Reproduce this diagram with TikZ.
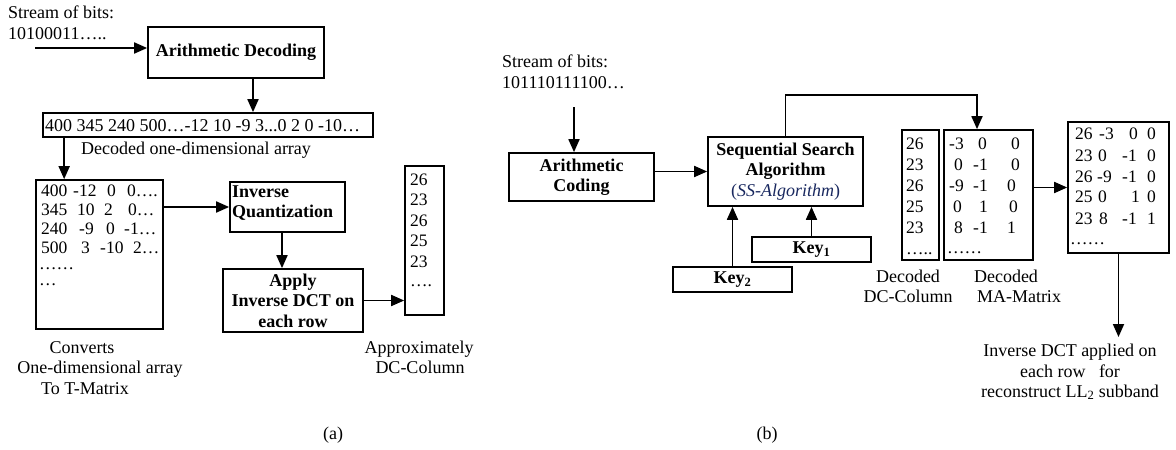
\documentclass[tikz,border=0pt]{standalone}
\usepackage{fontspec}
\setmainfont{Liberation Serif}
\usetikzlibrary{arrows.meta}
\definecolor{navy}{RGB}{25,40,95}
\begin{document}
\begin{tikzpicture}[x=1pt,y=-1pt,
  box/.style={draw, line width=1.7pt, inner sep=0pt},
  arr/.style={line width=1.8pt, -{Triangle[length=13pt,width=11pt]}},
  txt/.style={inner sep=0pt, font=\fontsize{18}{20.5}\selectfont},
  btxt/.style={inner sep=0pt, font=\fontsize{18}{20.5}\selectfont\bfseries, align=center},
  cell/.style={inner sep=0pt, anchor=base west, font=\fontsize{17.5}{19}\selectfont},
]
\useasboundingbox (0,0) rectangle (1176,450);

% ---------------- (a) ----------------
\node[txt, anchor=base west] (sa1) at (8,18) {Stream of bits:};
\node[txt, anchor=base west] (sa2) at (8,39) {10100011…..};
\coordinate (sa) at (35,48);
\node[box, btxt, minimum width=176pt, minimum height=51pt] (ad) at (236,52.5) {Arithmetic Decoding};
\draw[arr] (sa) -- (sa -| ad.west);

\node[box, minimum width=330pt, minimum height=24pt] (arr1d) at (208,125) {};
\node[txt, anchor=base west] (arr1dt) at (45,131) {400 345 240 500…-12 10 -9 3...0 2 0 -10…};
\coordinate (c0) at ([xshift=17pt]ad.south);
\draw[arr] (c0) -- (c0 |- arr1d.north);
\node[txt, anchor=base] (dec1) at (196,154) {Decoded one-dimensional array};

\node[box, minimum width=127pt, minimum height=149pt] (tm) at (99.5,254.5) {};
\foreach \x/\y/\t [count=\i] in {41/196/400, 73/196/-12, 107/196/0, 127/196/0….,
  41/215/345, 77/215/10, 104/215/2, 128/215/0…,
  41/234/240, 79/234/-9, 106/234/0, 124/234/-1…,
  41/253/500, 81/253/3, 100/253/-10, 133/253/2…,
  39/269/……, 39/285/…}
  \node[cell] (ta\i) at (\x,\y) {\t};
\coordinate (c1) at ([xshift=29pt]tm.north west);
\draw[arr] (c1 |- arr1d.south) -- (c1);

\node[box, minimum width=115pt, minimum height=50pt] (iq) at (287.5,207) {};
\node[btxt, anchor=west, align=left] (iqt) at (232,203) {Inverse\\Quantization};
\draw[arr] (tm.east |- iq.west) -- (iq.west);

\node[box, btxt, minimum width=140pt, minimum height=63pt] (ap) at (293,300.5) {Apply\\Inverse DCT on\\each row};
\coordinate (c2) at ([xshift=-5.5pt]iq.south);
\draw[arr] (c2) -- (c2 |- ap.north);

\node[box, minimum width=39pt, minimum height=149pt] (dca) at (424.5,240.5) {};
\foreach \y/\t [count=\i] in {185/26, 205/23, 226/26, 246/25, 267/23, 286/….}
  \node[cell] (da\i) at (410,\y) {\t};
\draw[arr] (ap.east) -- (ap.east -| dca.west);

\node[txt, anchor=base] (cv1) at (82,353) {Converts};
\node[txt, anchor=base] (cv2) at (100,373) {One-dimensional array};
\node[txt, anchor=base] (cv3) at (85,394) {To T-Matrix};
\node[txt, anchor=base] (ax1) at (419,353) {Approximately};
\node[txt, anchor=base] (ax2) at (420,373) {DC-Column};
\node[txt, anchor=base] (capa) at (333,439) {(a)};

% ---------------- (b) ----------------
\node[txt, anchor=base west] (sb1) at (502,67) {Stream of bits:};
\node[txt, anchor=base west] (sb2) at (502,88) {101110111100…};
\coordinate (c3) at (574,107);
\node[box, btxt, minimum width=145pt, minimum height=48pt] (ac) at (581.5,177) {Arithmetic\\Coding};
\draw[arr] (c3) -- (c3 |- ac.north);

\node[box, btxt, minimum width=155pt, minimum height=69pt] (ss) at (785.5,171.5)
  {Sequential Search\\Algorithm\\\textcolor{navy}{\mdseries(\textit{SS-Algorithm})}};
\draw[arr] (ac.east |- ss.west) -- (ss.west);

\node[box, btxt, minimum width=119pt, minimum height=25pt] (k2) at (732.5,279.5) {Key\textsubscript{2}};
\node[box, btxt, minimum width=119pt, minimum height=25pt] (k1) at (811.5,249.5) {Key\textsubscript{1}};
\draw[arr] (k2.north) -- (k2.north |- ss.south);
\draw[arr] (k1.north) -- (k1.north |- ss.south);

\node[box, minimum width=37pt, minimum height=130pt] (dcb) at (920.5,195) {};
\foreach \y/\t [count=\i] in {149/26, 170/23, 191/26, 212/25, 233/23, 254/…..}
  \node[cell] (db\i) at (906,\y) {\t};

\node[box, minimum width=89pt, minimum height=130pt] (ma) at (988.5,195) {};
\foreach \x/\y/\t [count=\i] in {949/149/-3, 978/149/0, 1011/149/0,
  954/170/0, 973/170/-1, 1011/170/0,
  949/191/-9, 973/191/-1, 1007/191/0,
  953/212/0, 979/212/1, 1009/212/0,
  954/233/8, 973/233/-1, 1007/233/1,
  947/253/……}
  \node[cell] (mb\i) at (\x,\y) {\t};

\coordinate (c4) at ([xshift=-11.5pt]ma.north);
\draw[arr] (ss.north) -- ++(0,-41) -| (c4);

\node[box, minimum width=101pt, minimum height=131pt] (res) at (1118.5,187.5) {};
\foreach \x/\y/\t [count=\i] in {1075/139/26, 1099/139/-3, 1129/139/0, 1147/139/0,
  1075/161/23, 1098/161/0, 1122/161/-1, 1147/161/0,
  1075/182/26, 1097/182/-9, 1122/182/-1, 1147/182/0,
  1075/202/25, 1098/202/0, 1131/202/1, 1147/202/0,
  1075/224/23, 1099/224/8, 1122/224/-1, 1147/224/1,
  1070/244/……}
  \node[cell] (rb\i) at (\x,\y) {\t};
\draw[arr] (ma.east |- res.west) -- (res.west);

\coordinate (endb) at (1118.5,337);
\draw[arr] (res.south) -- (endb);

\node[txt, anchor=base] (dd1) at (908,282) {Decoded};
\node[txt, anchor=base] (dd2) at (908,302) {DC-Column};
\node[txt, anchor=base] (dm1) at (1006,282) {Decoded};
\node[txt, anchor=base] (dm2) at (1019,302) {MA-Matrix};
\node[txt, anchor=base] (iv1) at (1070,356) {Inverse DCT applied on};
\node[txt, anchor=base] (iv2) at (1070,377) {each row\ \ \ for};
\node[txt, anchor=base] (iv3) at (1070,397) {reconstruct LL\textsubscript{2} subband};
\node[txt, anchor=base] (capb) at (767,439) {(b)};
\end{tikzpicture}
\end{document}
